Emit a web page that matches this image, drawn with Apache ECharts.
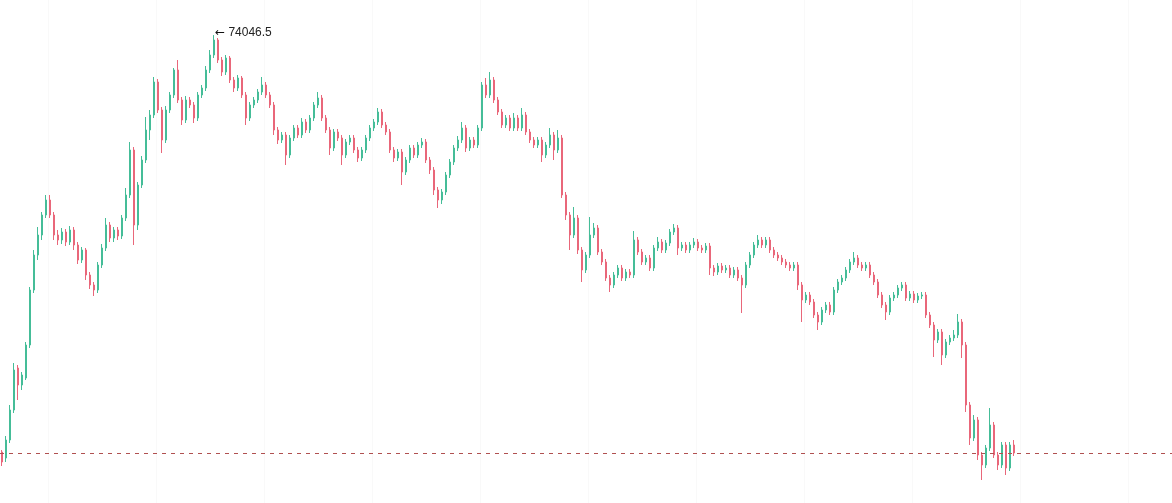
<!DOCTYPE html>
<html><head><meta charset="utf-8">
<script src="https://cdn.jsdelivr.net/npm/echarts@6/dist/echarts.min.js"></script>
<style>html,body{margin:0;padding:0;background:#fff}#c{width:1172px;height:503px}</style>
</head><body><div id="c"></div>
<script>
const opens=[57370,57130,57850,59050,60730,60050,60330,61650,63850,65250,
66050,66850,67450,66850,66050,65850,66170,65770,66250,65650,
65050,65450,64450,64050,63850,64850,65530,66450,65930,66250,
66010,66730,67650,69450,66450,68050,69050,70250,70850,72170,
71050,69850,71050,71650,72650,71450,70650,71450,71250,70730,
71650,71930,72650,73250,73850,73050,72570,73130,72250,71930,
72330,71650,70730,71250,71450,71770,72050,71650,71250,70250,
69850,70050,69250,69930,70330,70050,70570,70250,70730,71250,
71530,70730,70250,69530,70170,69930,69250,69770,69930,69450,
69130,69450,69930,70330,70570,70970,70450,70170,69450,69130,
69370,68570,69050,69530,69250,69650,69770,69050,68650,67850,
67450,67770,68450,68970,69530,69850,70330,69530,69850,69650,
70330,72050,71650,72250,71450,70970,70450,70730,70330,70730,
70330,70850,70170,69850,69650,69850,69250,69650,70050,69450,
69930,67650,66850,66050,66730,65450,64650,65250,66050,66330,
65370,64970,64330,64050,64450,64730,64330,64570,64450,65850,
65370,64970,65130,64730,65530,65770,65450,65730,66170,66330,
65530,65650,65450,65650,65770,65530,65450,65610,64730,64570,
64810,64650,64730,64450,64650,64330,64050,64850,65250,65650,
65850,65650,65850,65450,65250,65130,64970,64850,64730,64850,
64050,63450,63650,63370,62850,62570,63050,63250,62970,63850,
64170,64330,64650,64970,65130,64850,64730,64850,64450,64170,
63650,63250,62970,63530,63650,63930,64050,63530,63690,63450,
63610,63650,62850,62450,61850,62170,61250,61770,61930,62050,
62570,61650,59250,57930,58650,57250,56850,57530,58450,57250,
56850,57650,56730,57650];
const closes=[56970,57850,59050,60650,60050,60450,61650,63850,65250,66050,
66850,67450,66850,66050,65850,66170,65770,66250,65650,65050,
65450,64450,64050,63850,64850,65530,66450,65930,66250,66010,
66730,67650,69450,66450,68050,69050,70250,70850,72170,71050,
69850,71050,71650,72650,71450,70650,71450,71250,70730,71650,
71930,72650,73250,73850,73050,72570,73130,72250,71930,72330,
71650,70730,71250,71450,71770,72050,71650,71250,70250,69850,
70050,69250,69930,70330,70050,70570,70250,70730,71250,71530,
70730,70250,69530,70170,69930,69250,69770,69930,69450,69130,
69450,69930,70330,70570,70970,70450,70170,69450,69130,69370,
68570,69050,69530,69250,69650,69770,69050,68650,67850,67450,
67770,68450,68970,69530,69850,70330,69530,69850,69650,70330,
72050,71650,72250,71450,70970,70450,70730,70330,70730,70330,
70850,70170,69850,69650,69850,69250,69650,70050,69450,69930,
67650,66850,66050,66730,65450,64650,65250,66050,66330,65370,
64970,64330,64050,64450,64730,64330,64570,64450,65850,65370,
64970,65130,64730,65530,65770,65450,65730,66170,66330,65530,
65650,65450,65650,65770,65530,65450,65610,64730,64570,64810,
64650,64730,64450,64650,64330,64050,64850,65250,65650,65850,
65650,65850,65450,65250,65130,64970,64850,64730,64850,64050,
63450,63650,63370,62850,62570,63050,63250,62970,63850,64170,
64330,64650,64970,65130,64850,64730,64850,64450,64170,63650,
63250,62970,63530,63650,63930,64050,63530,63690,63450,63610,
63650,62850,62450,61850,62170,61250,61770,61930,62050,62570,
61650,59250,57930,58650,57250,56850,57530,58450,57250,56850,
57650,56730,57650,57330];
const lows=[56810,56970,57730,58930,59450,59850,60250,61530,63730,65050,
65850,66730,66730,65850,65650,65690,65610,65650,65450,64890,
64930,64250,63890,63610,63730,64730,65410,65770,65770,65850,
65890,66610,67530,65650,66250,67930,68930,69850,70730,70930,
69330,69730,70930,71530,71330,70450,70530,71130,70530,70610,
71530,71810,72530,73130,72930,72410,72450,72130,71770,71810,
71530,70450,70610,71130,71330,71650,71530,71130,70050,69690,
69730,68850,69130,69810,69930,69930,70130,70130,70610,71130,
70610,70130,69250,69410,69810,68850,69130,69650,69330,68970,
69010,69330,69810,70210,70450,70330,70050,69330,68970,69010,
68050,68450,68930,69130,69130,69530,68930,68490,67650,67130,
67290,67650,68330,68850,69410,69730,69370,69410,69530,69530,
70210,71530,71530,71330,70850,70330,70330,70210,70210,70210,
70210,70050,69730,69530,69530,68970,69130,69530,69050,69330,
67530,66650,65450,65930,65290,64170,64530,65130,65930,65250,
64850,64210,63770,63930,64330,64210,64210,64330,64330,65250,
64850,64850,64610,64610,65410,65330,65330,65610,66050,65250,
65410,65330,65330,65530,65410,65330,65330,64450,64410,64450,
64530,64530,64330,64330,64210,62930,63930,64730,65130,65530,
65530,65530,65330,65130,65010,64850,64730,64610,64610,63850,
62570,63330,63250,62730,62250,62450,62930,62850,62850,63730,
64050,64210,64530,64850,64730,64610,64610,64330,64050,63530,
63130,62650,62850,63410,63530,63810,63410,63410,63330,63330,
63490,62730,62330,61170,61730,60850,61130,61650,61810,61930,
61130,58970,57650,57810,57050,56250,56730,57410,57130,56650,
56730,56450,56610,57210];
const highs=[57450,58010,59250,60930,60850,60570,61770,63970,65450,66370,
66970,67650,67650,66970,66250,66330,66290,66410,66370,65770,
65570,65530,64570,64170,64970,65690,66730,66570,66370,66370,
66850,67930,69770,69570,68170,69210,70770,71050,72370,72290,
71170,71210,71770,72730,73050,71570,71610,71570,71370,71770,
72050,72810,73450,74046.5,73930,73170,73250,73210,72370,72450,
72410,71770,71370,71570,71890,72370,72170,71770,71370,70370,
70170,70170,70050,70450,70450,70730,70690,70850,71370,71770,
71650,70850,70370,70290,70290,70050,69890,70050,70050,69570,
69570,70050,70450,70690,71130,71090,70570,70290,69570,69490,
69490,69170,69650,69650,69770,69930,69890,69170,68770,67970,
67890,68570,69090,69650,70010,70570,70450,69970,69970,70450,
72170,72330,72570,72370,71570,71090,70850,70850,70930,70850,
71130,70970,70290,69970,69970,69970,69770,70330,70170,70250,
70050,67770,66970,67170,66850,65570,65370,66770,66530,66450,
65490,65090,64450,64570,64850,64850,64690,64690,66210,65970,
65490,65250,65250,65650,65970,65890,65850,66290,66490,66450,
65770,65770,65770,65930,65890,65650,65730,65730,64850,64930,
64930,64850,64850,64770,64770,64450,64970,65370,65770,66050,
65970,65970,65970,65570,65370,65250,65090,64970,64970,64970,
64170,63770,63770,63490,62970,63170,63370,63370,63970,64290,
64450,64770,65090,65370,65250,64970,64970,64970,64570,64290,
63770,63370,63650,63770,64050,64170,64170,63810,63810,63730,
63770,63770,62970,62570,62290,62290,61890,62050,62250,62890,
62690,61770,59370,58850,58770,57370,57650,59130,58570,57370,
57770,57770,57770,57850];
const lastPrice = 57330;
const maxPrice = 74046.5;
const rightPadBars = 39;

const n = opens.length;
const categories = [];
for (let i = 0; i < n + rightPadBars; i++) categories.push(String(i));
const ohlc = opens.map((o, i) => [o, closes[i], lows[i], highs[i]]);
const maxIdx = highs.indexOf(maxPrice);

const chart = echarts.init(document.getElementById('c'), null, {renderer: 'canvas'});
chart.setOption({
  animation: false,
  backgroundColor: '#ffffff',
  grid: {left: 0, right: 0, top: 0, bottom: 0},
  xAxis: {
    type: 'category', data: categories, boundaryGap: true,
    axisLine: {show: false}, axisTick: {show: false}, axisLabel: {show: false},
    splitLine: {show: true, interval: function (i) { return (i - 12) % 27 === 0; },
      lineStyle: {color: '#f9f9f9', width: 1}}
  },
  yAxis: {
    type: 'value', min: 55330, max: 75450, scale: true,
    axisLine: {show: false}, axisTick: {show: false}, axisLabel: {show: false},
    splitLine: {show: false}
  },
  series: [{
    type: 'candlestick',
    data: ohlc,
    barWidth: 2,
    itemStyle: {color: '#45bd98', color0: '#e9677a', borderColor: '#45bd98', borderColor0: '#e9677a', borderWidth: 1},
    markLine: {
      silent: true, symbol: 'none',
      label: {show: false},
      lineStyle: {color: '#b05050', type: [4, 5], width: 1},
      data: [{yAxis: lastPrice}]
    },
    markPoint: {
      symbol: 'circle', symbolSize: 0, silent: true,
      label: {show: true, position: 'right', distance: 1, offset: [0, -2],
        formatter: '{a|\u2190}{b| ' + maxPrice + '}',
        rich: {
          a: {color: '#111', fontSize: 12, fontFamily: 'DejaVu Sans'},
          b: {color: '#222', fontSize: 12, fontFamily: 'Liberation Sans, Arial, sans-serif'}
        }},
      data: [{coord: [maxIdx, maxPrice]}]
    }
  }]
});
</script>
</body></html>
